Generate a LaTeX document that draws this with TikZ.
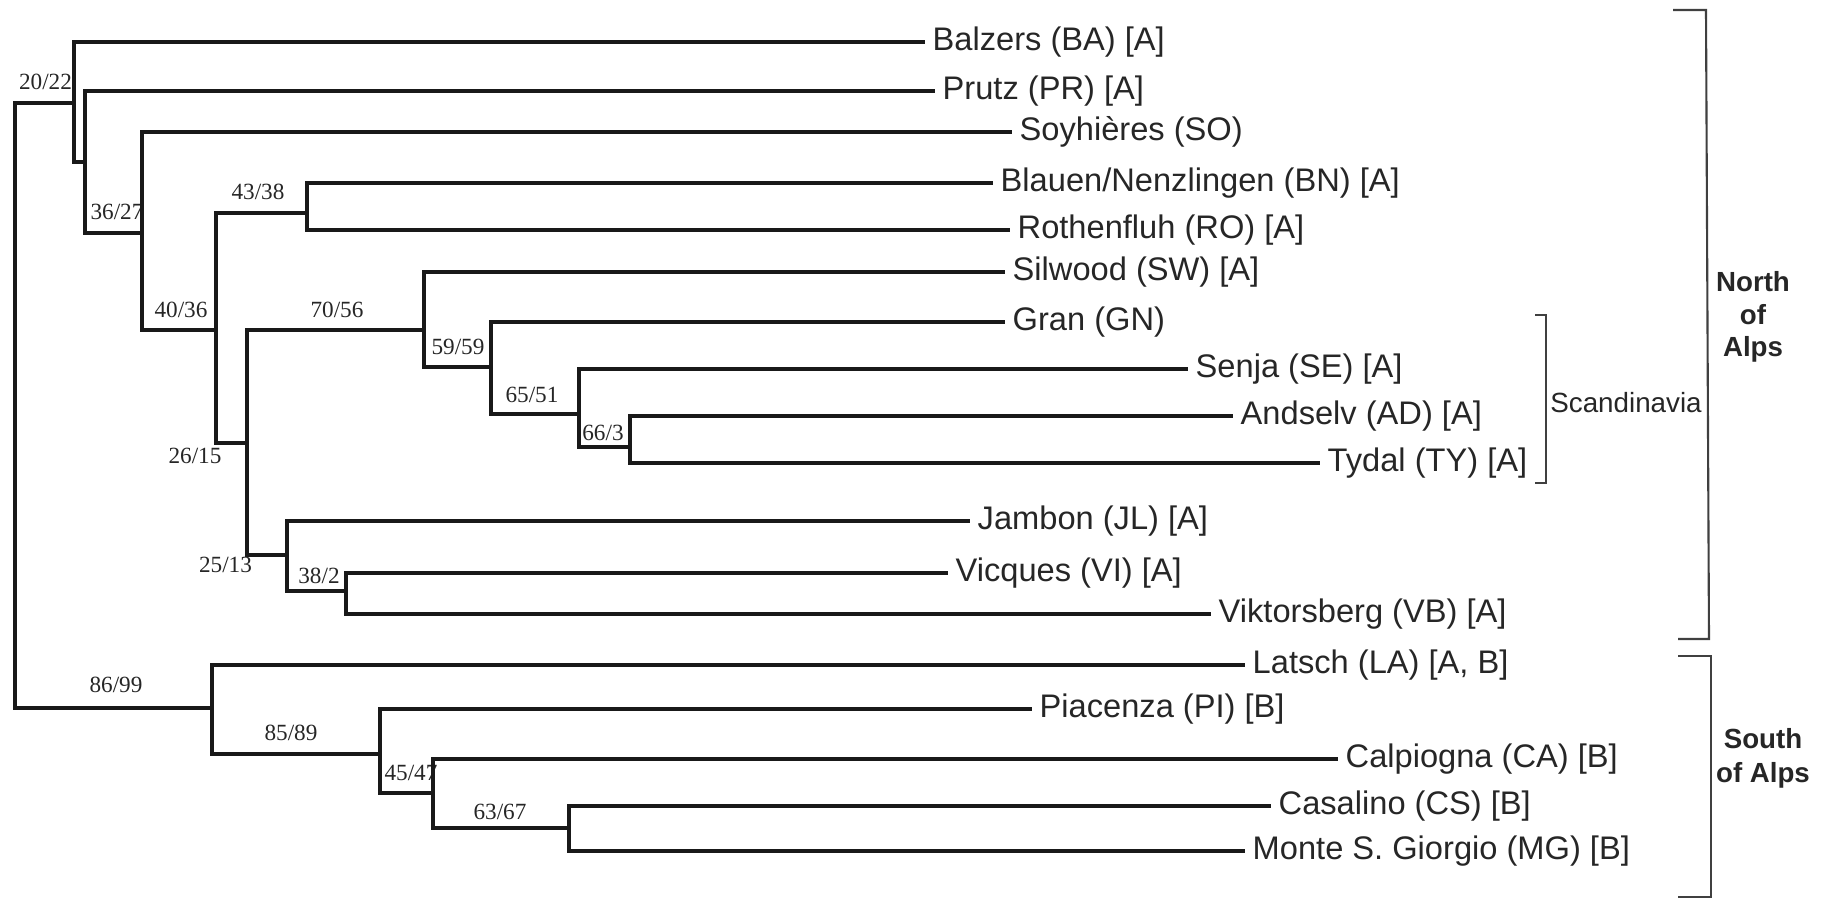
\documentclass[tikz,border=0pt]{standalone}
\usepackage{fontspec}
\setmainfont{Liberation Sans}
\newfontfamily\numfont{Liberation Serif}
\begin{document}
\begin{tikzpicture}[x=0.01cm,y=-0.01cm,
  branch/.style={line width=1.1pt, draw=black!90, line join=miter},
  leaf/.style={anchor=west, inner xsep=0.07cm, inner ysep=0pt, text=black!85,
    font=\fontsize{9.28}{11}\selectfont, text height=6.7pt, text depth=1.86pt},
  boot/.style={inner sep=0pt, text=black!85, font=\numfont\fontsize{6.6}{8}\selectfont},
  bracket/.style={line width=0.6pt, draw=black!75},
  northlab/.style={inner sep=0pt, text=black!85, align=center, font=\bfseries\fontsize{7.87}{9.2}\selectfont},
  southlab/.style={inner sep=0pt, text=black!85, align=center, font=\bfseries\fontsize{7.87}{9.6}\selectfont},
  scandlab/.style={inner sep=0pt, text=black!85, font=\fontsize{7.9}{9.5}\selectfont}]
\useasboundingbox (0,0) rectangle (1823,899);

% internal nodes
\coordinate (root) at (15,400);
\coordinate (n2022) at (74,103);
\coordinate (nP) at (85,162);
\coordinate (n3627) at (142,233);
\coordinate (n4036) at (216,330);
\coordinate (n4338) at (307,213);
\coordinate (n2615) at (247,443);
\coordinate (n7056) at (424,330);
\coordinate (n5959) at (491,367);
\coordinate (n6551) at (579,414);
\coordinate (n663) at (630,447);
\coordinate (n2513) at (287,555);
\coordinate (n382) at (346,591);
\coordinate (n8699) at (212,708);
\coordinate (n8589) at (380,754);
\coordinate (n4547) at (433,793);
\coordinate (n6367) at (569,828);

% leaves
\node[leaf] (BA) at (925,42) {Balzers (BA) [A]};
\node[leaf] (PR) at (935,91) {Prutz (PR) [A]};
\node[leaf] (SO) at (1012,132) {Soyhières (SO)};
\node[leaf] (BN) at (993,183) {Blauen/Nenzlingen (BN) [A]};
\node[leaf] (RO) at (1010,230) {Rothenfluh (RO) [A]};
\node[leaf] (SW) at (1005,272) {Silwood (SW) [A]};
\node[leaf] (GN) at (1005,322) {Gran (GN)};
\node[leaf] (SE) at (1188,369) {Senja (SE) [A]};
\node[leaf] (AD) at (1233,416) {Andselv (AD) [A]};
\node[leaf] (TY) at (1320,463) {Tydal (TY) [A]};
\node[leaf] (JL) at (970,521) {Jambon (JL) [A]};
\node[leaf] (VI) at (948,573) {Vicques (VI) [A]};
\node[leaf] (VB) at (1211,614) {Viktorsberg (VB) [A]};
\node[leaf] (LA) at (1245,665) {Latsch (LA) [A, B]};
\node[leaf] (PI) at (1032,709) {Piacenza (PI) [B]};
\node[leaf] (CA) at (1338,759) {Calpiogna (CA) [B]};
\node[leaf] (CS) at (1271,806) {Casalino (CS) [B]};
\node[leaf] (MG) at (1245,851) {Monte S. Giorgio (MG) [B]};

% bootstrap labels
\node[boot] (b2022) at (45.5,82) {20/22};
\node[boot] (b3627) at (117,212) {36/27};
\node[boot] (b4338) at (258,192) {43/38};
\node[boot] (b4036) at (181,310) {40/36};
\node[boot] (b7056) at (337,310) {70/56};
\node[boot] (b5959) at (458,347) {59/59};
\node[boot] (b6551) at (532,395) {65/51};
\node[boot] (b663) at (603,433) {66/3};
\node[boot] (b2615) at (195,456) {26/15};
\node[boot] (b2513) at (225.5,565) {25/13};
\node[boot] (b382) at (319,576) {38/2};
\node[boot] (b8699) at (116,685) {86/99};
\node[boot] (b8589) at (291,733) {85/89};
\node[boot] (b4547) at (411,773) {45/47};
\node[boot] (b6367) at (500,812) {63/67};

% branches
\draw[branch] (root) |- (n2022);
\draw[branch] (root) |- (n8699);
\draw[branch] (n2022) |- (BA.west);
\draw[branch] (n2022) |- (nP);
\draw[branch] (nP) |- (PR.west);
\draw[branch] (nP) |- (n3627);
\draw[branch] (n3627) |- (SO.west);
\draw[branch] (n3627) |- (n4036);
\draw[branch] (n4036) |- (n4338);
\draw[branch] (n4036) |- (n2615);
\draw[branch] (n4338) |- (BN.west);
\draw[branch] (n4338) |- (RO.west);
\draw[branch] (n2615) |- (n7056);
\draw[branch] (n2615) |- (n2513);
\draw[branch] (n7056) |- (SW.west);
\draw[branch] (n7056) |- (n5959);
\draw[branch] (n5959) |- (GN.west);
\draw[branch] (n5959) |- (n6551);
\draw[branch] (n6551) |- (SE.west);
\draw[branch] (n6551) |- (n663);
\draw[branch] (n663) |- (AD.west);
\draw[branch] (n663) |- (TY.west);
\draw[branch] (n2513) |- (JL.west);
\draw[branch] (n2513) |- (n382);
\draw[branch] (n382) |- (VI.west);
\draw[branch] (n382) |- (VB.west);
\draw[branch] (n8699) |- (LA.west);
\draw[branch] (n8699) |- (n8589);
\draw[branch] (n8589) |- (PI.west);
\draw[branch] (n8589) |- (n4547);
\draw[branch] (n4547) |- (CA.west);
\draw[branch] (n4547) |- (n6367);
\draw[branch] (n6367) |- (CS.west);
\draw[branch] (n6367) |- (MG.west);

% group brackets
\draw[bracket] (1673,10) -- (1706,10) -- (1709,639) -- (1678,639);
\draw[bracket] (1678,656) -- (1711,656) -- (1711,897) -- (1678,897);
\draw[bracket] (1535,315) -- (1546,315) -- (1546,483) -- (1535,483);
\node[northlab] (north) at (1753,317) {North\\of\\Alps};
\node[southlab] (south) at (1763,758) {South\\of Alps};
\node[scandlab] (scand) at (1626,403) {Scandinavia};
\end{tikzpicture}
\end{document}
